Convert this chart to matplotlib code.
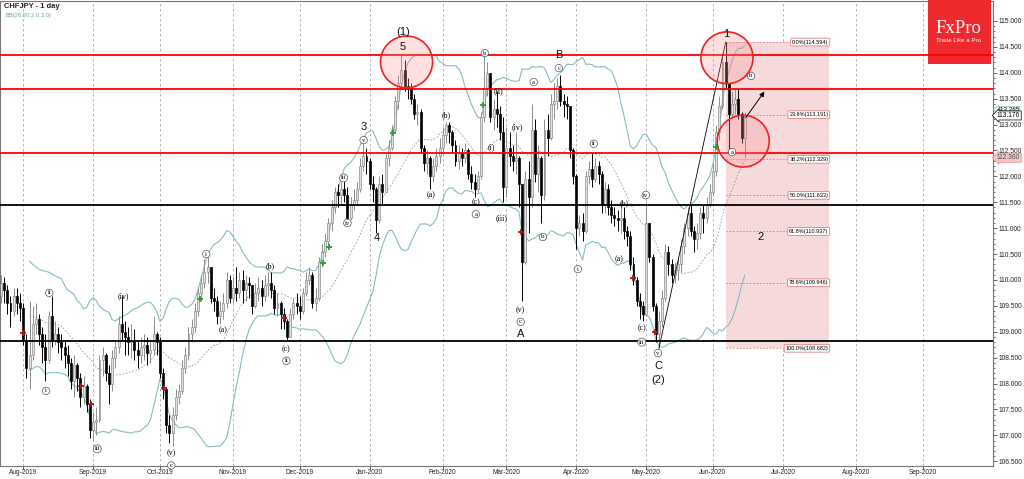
import numpy as np
import pandas as pd
import matplotlib
matplotlib.use('Agg')
import matplotlib.pyplot as plt
import matplotlib.transforms as mtrans
from matplotlib.patches import Ellipse, Rectangle

plt.rcParams['font.family'] = ['Liberation Sans', 'DejaVu Sans']

# CHFJPY daily bars, 23 Jul 2019 .. 15 Jun 2020
first_open = 109.70
close = [109.95, 109.80, 109.55, 109.40, 109.70, 109.55, 109.45, 108.85, 108.30, 108.55,
         109.15, 109.25, 108.95, 108.70, 108.45, 109.30, 108.85, 108.95, 108.80, 108.70,
         108.55, 108.40, 108.05, 108.35, 108.10, 107.75, 107.95, 107.60, 107.10, 107.25,
         107.30, 108.45, 108.55, 108.20, 108.00, 108.50, 108.70, 109.15, 109.00, 108.90,
         108.80, 108.85, 108.65, 108.55, 108.70, 108.75, 108.60, 108.65, 108.95, 108.80,
         108.20, 107.90, 107.20, 107.05, 107.40, 107.75, 107.85, 108.30, 108.55, 108.95,
         109.10, 109.40, 109.75, 109.95, 110.15, 110.25, 109.65, 109.60, 109.30, 109.40,
         109.55, 110.00, 109.65, 109.85, 109.75, 110.00, 109.80, 109.95, 109.90, 109.50,
         109.75, 109.85, 109.70, 109.90, 109.95, 109.80, 109.45, 109.55, 109.35, 109.20,
         108.90, 109.35, 109.55, 109.50, 109.40, 109.75, 110.00, 110.10, 109.55, 109.65,
         110.35, 110.55, 110.75, 111.10, 111.40, 111.70, 111.65, 111.75, 111.65, 111.20,
         111.45, 111.55, 111.75, 112.20, 112.40, 112.30, 111.85, 111.75, 111.15, 111.85,
         111.70, 112.35, 112.55, 112.90, 113.45, 113.80, 114.05, 113.75, 113.70, 113.50,
         113.20, 113.25, 112.55, 112.25, 112.35, 112.00, 112.20, 112.40, 112.55, 112.80,
         113.00, 112.85, 112.60, 112.30, 112.45, 112.35, 112.50, 112.05, 111.90, 111.75,
         112.00, 113.15, 113.70, 114.00, 113.15, 113.30, 113.20, 112.85, 111.80, 112.55,
         112.40, 112.30, 112.35, 111.85, 110.35, 111.95, 111.60, 112.90, 112.05, 112.35,
         111.65, 112.90, 112.75, 113.40, 113.45, 113.75, 113.45, 113.40, 113.35, 112.50,
         112.00, 111.00, 111.10, 110.95, 112.00, 112.15, 111.95, 112.20, 112.05, 111.45,
         111.75, 111.40, 111.25, 111.20, 111.15, 111.20, 110.95, 110.85, 110.30, 110.00,
         109.60, 109.50, 109.35, 111.10, 110.45, 109.50, 108.95, 109.20, 109.65, 110.55,
         110.30, 110.10, 110.20, 110.30, 110.65, 111.00, 111.30, 110.95, 110.80, 110.90,
         111.30, 111.20, 111.45, 111.70, 112.10, 112.85, 113.35, 114.20, 113.80, 113.20,
         113.40, 113.50, 113.20, 112.75, 113.176]
high = [110.10, 110.05, 109.90, 109.70, 109.85, 109.85, 109.75, 109.55, 108.95, 109.60,
        109.50, 109.55, 109.35, 109.10, 108.95, 109.40, 109.70, 109.20, 109.10, 108.95,
        108.85, 108.75, 108.50, 108.55, 108.40, 108.20, 108.15, 108.00, 107.70, 107.45,
        107.55, 108.55, 108.70, 108.60, 108.35, 108.65, 108.85, 109.30, 109.70, 109.20,
        109.10, 109.15, 109.05, 108.85, 108.90, 108.95, 108.90, 108.85, 109.30, 109.00,
        108.90, 108.30, 107.80, 107.40, 107.55, 107.90, 108.00, 108.45, 108.70, 109.10,
        109.25, 109.55, 109.85, 110.10, 110.40, 110.45, 110.25, 109.85, 109.70, 109.60,
        109.75, 110.15, 110.10, 110.05, 110.25, 110.15, 110.20, 110.10, 110.05, 109.90,
        109.95, 110.05, 110.00, 110.10, 110.15, 110.15, 109.90, 109.75, 109.60, 109.45,
        109.25, 109.45, 109.65, 109.75, 109.70, 109.85, 110.15, 110.25, 110.15, 109.85,
        110.45, 110.70, 110.90, 111.20, 111.55, 111.80, 111.85, 111.90, 111.95, 111.80,
        111.60, 111.75, 111.90, 112.35, 112.75, 112.55, 112.35, 112.00, 111.80, 112.00,
        112.05, 112.45, 112.70, 113.00, 113.55, 113.95, 114.35, 114.25, 113.90, 113.80,
        113.60, 113.40, 113.30, 112.60, 112.50, 112.40, 112.35, 112.55, 112.75, 112.95,
        113.05, 113.05, 112.90, 112.70, 112.60, 112.55, 112.65, 112.55, 112.20, 112.05,
        112.10, 113.25, 114.35, 114.20, 113.95, 113.50, 113.65, 113.35, 113.15, 112.95,
        112.85, 112.60, 112.85, 112.40, 111.85, 112.10, 112.30, 113.40, 113.10, 112.60,
        112.40, 113.10, 113.20, 113.60, 113.80, 113.90, 113.95, 113.60, 113.55, 113.35,
        112.55, 112.05, 111.25, 111.30, 112.10, 112.30, 112.45, 112.35, 112.30, 112.10,
        111.90, 111.85, 111.55, 111.40, 111.35, 111.50, 111.40, 111.05, 110.95, 110.45,
        110.05, 109.75, 109.60, 111.50, 111.10, 110.50, 109.55, 109.40, 109.80, 110.70,
        110.65, 110.40, 110.35, 110.45, 110.80, 111.10, 111.40, 111.45, 111.05, 111.10,
        111.40, 111.45, 111.60, 111.85, 112.25, 113.00, 113.55, 114.30, 114.594, 113.80,
        113.65, 113.70, 113.70, 113.25, 113.25]
low = [109.55, 109.55, 109.35, 109.10, 109.30, 109.35, 109.20, 108.75, 108.10, 107.90,
       108.45, 108.95, 108.75, 108.40, 108.05, 108.40, 108.70, 108.75, 108.60, 108.45,
       108.30, 108.15, 107.90, 107.75, 107.85, 107.55, 107.60, 107.45, 106.95, 106.90,
       107.00, 107.25, 108.15, 108.05, 107.60, 107.85, 108.30, 108.60, 108.85, 108.55,
       108.55, 108.50, 108.45, 108.30, 108.40, 108.45, 108.35, 108.40, 108.55, 108.55,
       108.10, 107.70, 107.05, 106.85, 106.80, 107.30, 107.60, 107.80, 108.20, 108.45,
       108.80, 109.00, 109.30, 109.60, 109.85, 109.95, 109.55, 109.40, 109.15, 109.15,
       109.25, 109.45, 109.55, 109.55, 109.60, 109.65, 109.55, 109.60, 109.65, 109.35,
       109.45, 109.60, 109.50, 109.60, 109.70, 109.65, 109.35, 109.30, 109.05, 109.05,
       108.82, 108.90, 109.25, 109.35, 109.25, 109.35, 109.70, 109.90, 109.45, 109.40,
       109.60, 110.25, 110.45, 110.70, 110.95, 111.30, 111.40, 111.45, 111.50, 111.10,
       111.15, 111.35, 111.45, 111.70, 112.10, 112.05, 111.75, 111.50, 110.90, 111.10,
       111.45, 111.70, 112.20, 112.50, 112.85, 113.30, 113.70, 113.65, 113.50, 113.40,
       113.10, 113.00, 112.45, 112.10, 112.05, 111.75, 111.90, 112.10, 112.25, 112.45,
       112.65, 112.65, 112.45, 112.20, 112.15, 112.20, 112.25, 111.95, 111.75, 111.60,
       111.70, 111.95, 113.05, 113.55, 113.05, 112.90, 112.95, 112.70, 111.50, 111.60,
       112.20, 112.10, 112.05, 111.40, 109.60, 110.30, 110.90, 111.40, 111.90, 111.70,
       111.10, 111.55, 112.40, 112.70, 113.10, 113.30, 113.35, 113.15, 113.10, 112.35,
       111.85, 110.60, 110.85, 110.75, 110.90, 111.85, 111.80, 111.90, 111.85, 111.30,
       111.30, 111.25, 111.10, 111.05, 110.95, 110.90, 110.80, 110.65, 110.20, 109.90,
       109.50, 109.25, 109.20, 109.30, 110.35, 109.40, 108.80, 108.682, 109.10, 109.60,
       110.10, 109.95, 109.95, 110.00, 110.15, 110.50, 110.85, 110.85, 110.55, 110.60,
       110.80, 110.90, 111.10, 111.40, 111.65, 112.00, 112.70, 113.30, 113.70, 112.45,
       113.10, 113.20, 113.10, 112.65, 112.36]

# Fibonacci retracement of the May-June swing
fib_pct = ['0.0%', '23.6%', '38.2%', '50.0%', '61.8%', '78.6%', '100.0%']
fib_val = [114.594, 113.191, 112.329, 111.633, 110.937, 109.946, 108.682]

# horizontal support / resistance levels
red_levels = [114.34, 113.69, 112.46]
black_levels = [111.45, 108.83]

# wave labels: (text, bar, price, kind)  kind: c=circled, p=parenthesised, b=big
waves = [
    ('i', 14.2, 107.86, 'c'), ('ii', 15.2, 109.75, 'c'), ('iii', 30.3, 106.74, 'c'),
    ('(iv)', 38.5, 109.69, 'p'), ('(v)', 53.6, 106.66, 'p'), ('c', 53.6, 106.42, 'c'),
    ('i', 64.6, 110.50, 'c'), ('(a)', 69.7, 109.03, 'p'), ('(b)', 84.8, 110.27, 'p'),
    ('(c)', 89.8, 108.67, 'p'), ('ii', 89.8, 108.44, 'c'), ('iii', 107.8, 111.97, 'c'),
    ('iv', 109.0, 111.10, 'c'), ('v', 114.1, 112.70, 'c'), ('3', 114.1, 112.95, 'b'),
    ('4', 118.2, 110.81, 'b'), ('5', 126.4, 114.50, 'b'), ('(1)', 126.4, 114.78, 'b'),
    ('(a)', 135.2, 111.64, 'p'), ('(b)', 140.2, 113.19, 'p'), ('(c)', 149.4, 111.51, 'p'),
    ('a', 149.4, 111.27, 'c'), ('b', 152.2, 114.38, 'c'), ('(ii)', 156.6, 113.65, 'p'),
    ('(i)', 154.4, 112.57, 'p'), ('(iii)', 157.5, 111.20, 'p'), ('(iv)', 162.6, 112.95, 'p'),
    ('(v)', 163.5, 109.42, 'p'), ('c', 163.5, 109.19, 'c'), ('A', 163.5, 108.95, 'b'),
    ('a', 167.6, 113.82, 'c'), ('b', 170.5, 110.83, 'c'), ('c', 175.5, 114.09, 'c'),
    ('B', 175.5, 114.34, 'b'), ('i', 181.5, 110.21, 'c'), ('ii', 186.5, 112.63, 'c'),
    ('(b)', 196.0, 111.49, 'p'), ('(a)', 194.4, 110.41, 'p'), ('(c)', 201.6, 109.07, 'p'),
    ('iii', 201.6, 108.80, 'c'), ('iv', 202.9, 111.64, 'c'), ('v', 206.7, 108.59, 'c'),
    ('C', 206.7, 108.33, 'b'), ('(2)', 206.7, 108.06, 'b'), ('1', 228.1, 114.74, 'b'),
    ('b', 236.0, 113.94, 'c'), ('a', 230.0, 112.47, 'c'), ('2', 239.1, 110.83, 'b'),
]

# signal markers (bar, price)
buy_marks = [(62.7, 109.63), (101.2, 110.33), (103.1, 110.64), (123.2, 112.84),
             (151.6, 113.38), (224.9, 112.57)]
sell_marks = [(7.0, 108.98), (25.3, 107.95), (28.4, 107.61), (51.4, 107.92),
              (88.9, 109.27), (163.5, 110.93), (198.8, 110.04), (205.7, 109.0)]

n = len(close)
x = np.arange(n)
c = np.array(close)
o = np.array([first_open] + close[:-1])
h = np.maximum(np.array(high), np.maximum(o, c))
l = np.minimum(np.array(low), np.minimum(o, c))
up = c >= o

fig = plt.figure(figsize=(10.24, 4.79), dpi=100)
ax = fig.add_axes([0.0, 13 / 479, 993 / 1024, 465 / 479])

# month grid
all_days = pd.bdate_range('2019-07-23', '2020-09-30')
month_pos, month_lab = [], []
for k in range(1, len(all_days)):
    if all_days[k].month != all_days[k - 1].month:
        month_pos.append(k)
        month_lab.append(all_days[k].strftime('%b-%Y'))
for mp in month_pos:
    ax.axvline(mp, color='#a8a8a8', lw=0.6, ls=(0, (3, 3)), zorder=0.3)

# fib zone
ax.add_patch(Rectangle((228, fib_val[-1]), 32.5, fib_val[0] - fib_val[-1],
                       fc='#f6dadb', ec='none', zorder=0.5))
for p, v in zip(fib_pct, fib_val):
    ax.plot([228, 260.5], [v, v], color='#e07a7a', lw=0.6, ls=(0, (2, 2)), zorder=1)
    ax.text(260.3, v, '%s(%.3f)' % (p, v), fontsize=4, ha='right', va='center', zorder=6,
            bbox=dict(boxstyle='round,pad=0.25', fc='white', ec='#e08080', lw=0.6))

# bollinger bands
s = pd.Series(c)
mid = s.rolling(20, min_periods=10).mean()
sd = s.rolling(20, min_periods=10).std(ddof=0)
ax.plot(x, mid + 2 * sd, color='#86bcc2', lw=0.8, zorder=1.5)
ax.plot(x, mid - 2 * sd, color='#86bcc2', lw=0.8, zorder=1.5)
ax.plot(x, mid, color='#9a9a9a', lw=0.6, ls=(0, (2, 2)), zorder=1.5)

# candles
w = 0.62
ax.vlines(x[up], l[up], h[up], color='#8c8c8c', lw=0.7, zorder=2)
ax.vlines(x[~up], l[~up], h[~up], color='black', lw=0.7, zorder=2)
body = np.maximum(np.abs(c - o), 0.02)
ax.bar(x[up], body[up], bottom=np.minimum(o, c)[up], width=w, color='#e2e2e2',
       edgecolor='#8c8c8c', lw=0.5, zorder=2.5)
ax.bar(x[~up], body[~up], bottom=np.minimum(o, c)[~up], width=w, color='black',
       edgecolor='black', lw=0.5, zorder=2.5)

# levels
for v in red_levels:
    ax.axhline(v, color='#ff0000', lw=1.3, zorder=3)
for v in black_levels:
    ax.axhline(v, color='black', lw=1.3, zorder=3)

# circles
for cx, cy in [(127.6, 114.21), (228.4, 114.29), (233.5, 112.68)]:
    ax.add_patch(Ellipse((cx, cy), 16.4, 1.0, fc=(1, 0.55, 0.55, 0.28),
                         ec='#ee2222', lw=1.2, zorder=4))

# C -> 1 line and arrow
ax.plot([207, 228], [108.682, 114.594], color='black', lw=0.6, zorder=3.5)
ax.annotate('', xy=(240.7, 113.68), xytext=(233.8, 113.09),
            arrowprops=dict(arrowstyle='-|>', color='black', lw=0.7, mutation_scale=7), zorder=5)

# signal markers
bx, by = zip(*buy_marks)
ax.scatter(bx, by, marker='+', s=14, color='#2f9a3a', lw=1.3, zorder=5)
sx, sy = zip(*sell_marks)
ax.scatter(sx, sy, marker='+', s=14, color='#b01818', lw=1.3, zorder=5)

# wave labels
for t, bx_, py, kind in waves:
    if kind == 'c':
        ax.text(bx_, py, t, fontsize=4.8, ha='center', va='center', family='Liberation Serif',
                zorder=6, bbox=dict(boxstyle='circle,pad=0.18', fc='white', ec='#555555', lw=0.5))
    elif kind == 'p':
        ax.text(bx_, py, t, fontsize=5.8, ha='center', va='center', family='Liberation Serif', zorder=6)
    else:
        ax.text(bx_, py, t, fontsize=8, ha='center', va='center', color='#111111', zorder=6)

ax.set_xlim(-0.3, 312.1)
ax.set_ylim(106.409, 115.386)

# axes styling
ax.yaxis.tick_right()
ax.set_yticks(np.arange(106.5, 115.01, 0.5))
ax.set_yticks(np.arange(106.5, 115.01, 0.1), minor=True)
ax.yaxis.set_major_formatter(matplotlib.ticker.FormatStrFormatter('%.3f'))
ax.tick_params(axis='y', labelsize=4.8, length=3, width=0.5, pad=1, colors='#222222')
ax.tick_params(axis='y', which='minor', length=1.5, width=0.4)
ax.set_xticks(month_pos)
ax.set_xticklabels(month_lab)
ax.tick_params(axis='x', labelsize=4.7, length=2, width=0.5, pad=0.5, colors='#222222')
for sp in ax.spines.values():
    sp.set_color('#777777')
    sp.set_linewidth(0.8)

# price tags on the right axis
tr = mtrans.blended_transform_factory(ax.transAxes, ax.transData)
ax.text(1.004, 113.285, '113.265', transform=tr, fontsize=4.5, va='center', ha='left', clip_on=False,
        bbox=dict(boxstyle='larrow,pad=0.1', fc='#eef6f6', ec='#8fbfc4', lw=0.5), zorder=7)
ax.text(1.004, 113.176, '113.176', transform=tr, fontsize=4.8, va='center', ha='left', clip_on=False,
        bbox=dict(boxstyle='larrow,pad=0.15', fc='white', ec='black', lw=0.5), zorder=8)
ax.text(1.004, 112.360, '112.360', transform=tr, fontsize=4.8, va='center', ha='left', clip_on=False,
        color='#555555', bbox=dict(boxstyle='larrow,pad=0.15', fc='#f4c4c4', ec='#e09090', lw=0.5), zorder=8)

# header
ax.text(4 / 993, 0.988, 'CHFJPY - 1 day', transform=ax.transAxes, fontsize=5.4,
        fontweight='bold', va='center', ha='left', color='#222222')
ax.text(5 / 993, 0.968, 'BB(20,20,2.0,3.0)', transform=ax.transAxes, fontsize=4.2,
        va='center', ha='left', color='#5aa6b0')

# logo
ax.add_patch(Rectangle((927.7 / 993, (466 - 64) / 465), 63.3 / 993, 66 / 465,
                       transform=ax.transAxes, fc='#ee2a2e', ec='none', zorder=2.8, clip_on=False))
ax.text(0.9656, 0.9413, 'FxPro', transform=ax.transAxes, fontsize=13.5, color='white',
        family='Liberation Serif', ha='center', va='center', zorder=9)
ax.text(0.9656, 0.9146, 'Trade Like a Pro', transform=ax.transAxes, fontsize=4.4, color='white',
        ha='center', va='center', zorder=9)

fig.savefig('out.png', dpi=100)
